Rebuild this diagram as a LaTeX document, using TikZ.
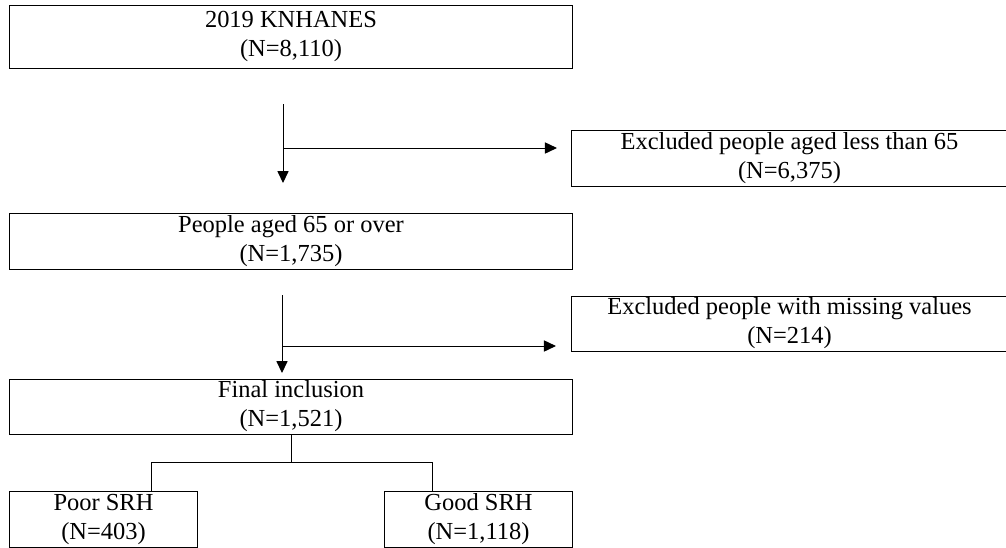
\documentclass[tikz,border=0pt]{standalone}
\usepackage{fontspec}
\setmainfont{Liberation Serif}
\usetikzlibrary{arrows.meta}
\tikzset{
  box/.style={draw, line width=0.7pt, inner sep=0pt, align=center,
    font=\fontsize{17.4}{20.5}\selectfont},
  flow/.style={line width=0.7pt, -{Triangle[length=0.3cm,width=0.28cm]}},
  link/.style={line width=0.7pt}
}
\begin{document}
\begin{tikzpicture}[x=0.025cm, y=-0.025cm]
            \useasboundingbox (0,0) rectangle (1006,547);
            %riquadri
            \node[box, minimum width=14.05cm, minimum height=1.575cm] (survey) at (291,36.5) {2019 KNHANES\\(N=8,110)};
            \node[box, minimum width=14.05cm, minimum height=1.4cm] (elderly) at (291,241) {People aged 65 or over\\(N=1,735)};
            \node[box, minimum width=14.05cm, minimum height=1.375cm] (final) at (291,406.5) {Final inclusion\\(N=1,521)};
            \node[box, minimum width=10.9cm, minimum height=1.4cm] (exyoung) at (789.5,158) {Excluded people aged less than 65\\(N=6,375)};
            \node[box, minimum width=10.9cm, minimum height=1.375cm] (exmiss) at (789.5,323.5) {Excluded people with missing values\\(N=214)};
            \node[box, minimum width=4.675cm, minimum height=1.4cm] (poor) at (103.5,519.5) {Poor SRH\\(N=403)};
            \node[box, minimum width=4.675cm, minimum height=1.4cm] (good) at (478.5,519.5) {Good SRH\\(N=1,118)};
            %frecce
            \coordinate (top1) at (283,104);
            \coordinate (end1) at (283,183);
            \coordinate (turn1) at (283,148);
            \draw[flow] (top1) -- (end1);
            \draw[flow] (turn1) -- ([xshift=-14*0.025cm]turn1 -| exyoung.west);
            \coordinate (top2) at (282,295);
            \coordinate (end2) at (282,373);
            \coordinate (turn2) at (282,346);
            \draw[flow] (top2) -- (end2);
            \draw[flow] (turn2) -- ([xshift=-15*0.025cm]turn2 -| exmiss.west);
            %ramificazione
            \coordinate (bl) at (151,462);
            \coordinate (br) at (432,462);
            \draw[link] (final.south) -- (final.south |- bl);
            \draw[link] (bl) -- (br);
            \draw[link] (bl) -- (bl |- poor.north);
            \draw[link] (br) -- (br |- good.north);
\end{tikzpicture}
\end{document}
